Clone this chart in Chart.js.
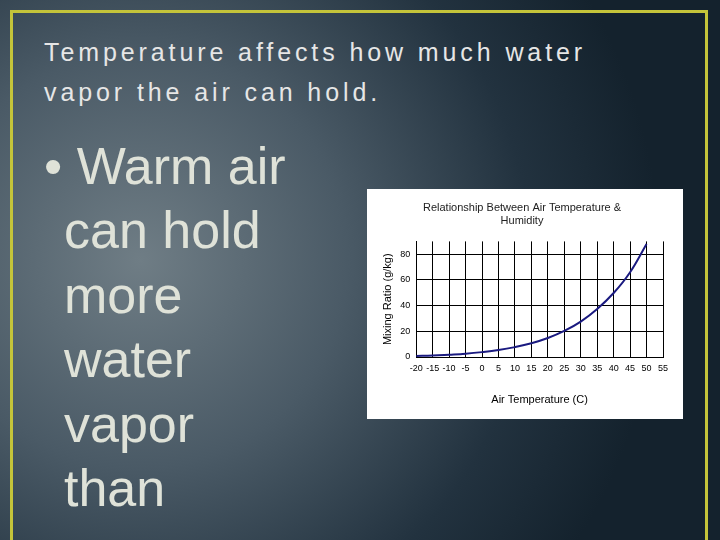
<!DOCTYPE html>
<html>
<head>
<meta charset="utf-8">
<script src="https://cdn.jsdelivr.net/npm/chart.js@4"></script>
<style>
  html, body { margin: 0; padding: 0; }
  body {
    width: 720px; height: 540px; overflow: hidden; position: relative;
    background: radial-gradient(ellipse 520px 520px at 140px 260px, #6f7d85 0%, #4a5a66 40%, #22323f 75%, #14222d 100%);
    font-family: "Liberation Sans", Arial, sans-serif;
  }
  .frame {
    position: absolute; left: 10px; top: 10px; width: 698px; height: 540px;
    border: 3px solid #c4c43a; border-bottom: none; box-sizing: border-box;
  }
  .title {
    position: absolute; left: 44px; top: 32px; color: #e6e6e6;
    font-size: 25px; letter-spacing: 3.9px; line-height: 40px;
  }
  .bullet {
    position: absolute; left: 44px; top: 134px; color: #dfe2d8;
    font-size: 52px; line-height: 64.4px;
  }
  .bullet div { padding-left: 20px; }
  .chartbox {
    position: absolute; left: 367px; top: 189px; width: 316px; height: 230px; background: #fff;
  }
</style>
</head>
<body>
<div class="frame"></div>
<div class="title">Temperature affects how much water<br>vapor the air can hold.</div>
<div class="bullet">• Warm air<div>can hold</div><div>more</div><div>water</div><div>vapor</div><div>than</div></div>
<div class="chartbox"><canvas id="chart" width="316" height="230"></canvas></div>
<script>
const temperatures = [-20, -15, -10, -5, 0, 5, 10, 15, 20, 25, 30, 35, 40, 45, 50];
const mixingRatio = [0.8, 1.1, 1.8, 2.6, 3.8, 5.4, 7.7, 10.7, 14.8, 20.3, 27.6, 37.4, 49.8, 66, 88];

const ctx = document.getElementById('chart').getContext('2d');
new Chart(ctx, {
  type: 'line',
  data: {
    datasets: [{
      data: temperatures.map((t, i) => ({ x: t, y: mixingRatio[i] })),
      borderColor: '#1a1a80',
      borderWidth: 2,
      pointRadius: 0,
      fill: false,
      tension: 0.4
    }]
  },
  options: {
    responsive: false,
    animation: false,
    layout: { padding: { left: 14, right: 20, top: 2, bottom: 8 } },
    plugins: {
      legend: { display: false },
      title: {
        display: true,
        text: ['Relationship Between Air Temperature &', 'Humidity'],
        color: '#222', font: { size: 11, family: 'Arial', weight: 'normal' }, padding: { top: 10, bottom: 14 }
      }
    },
    scales: {
      x: {
        type: 'linear', min: -20, max: 55,
        ticks: { stepSize: 5, color: '#000', font: { size: 9, family: 'Arial' }, maxRotation: 0, autoSkip: false, padding: 6 },
        grid: { color: '#000', drawTicks: false },
        border: { color: '#000' },
        title: { display: true, text: 'Air Temperature (C)', color: '#000', font: { size: 11, family: 'Arial' }, padding: { top: 14 } }
      },
      y: {
        min: 0, max: 90,
        ticks: { stepSize: 10, color: '#000', font: { size: 9, family: 'Arial' }, padding: 6 },
        grid: { color: '#000', drawTicks: false },
        border: { color: '#000' },
        title: { display: true, text: 'Mixing Ratio (g/kg)', color: '#000', font: { size: 11, family: 'Arial' }, padding: 0 }
      }
    }
  }
});
</script>
</body>
</html>
